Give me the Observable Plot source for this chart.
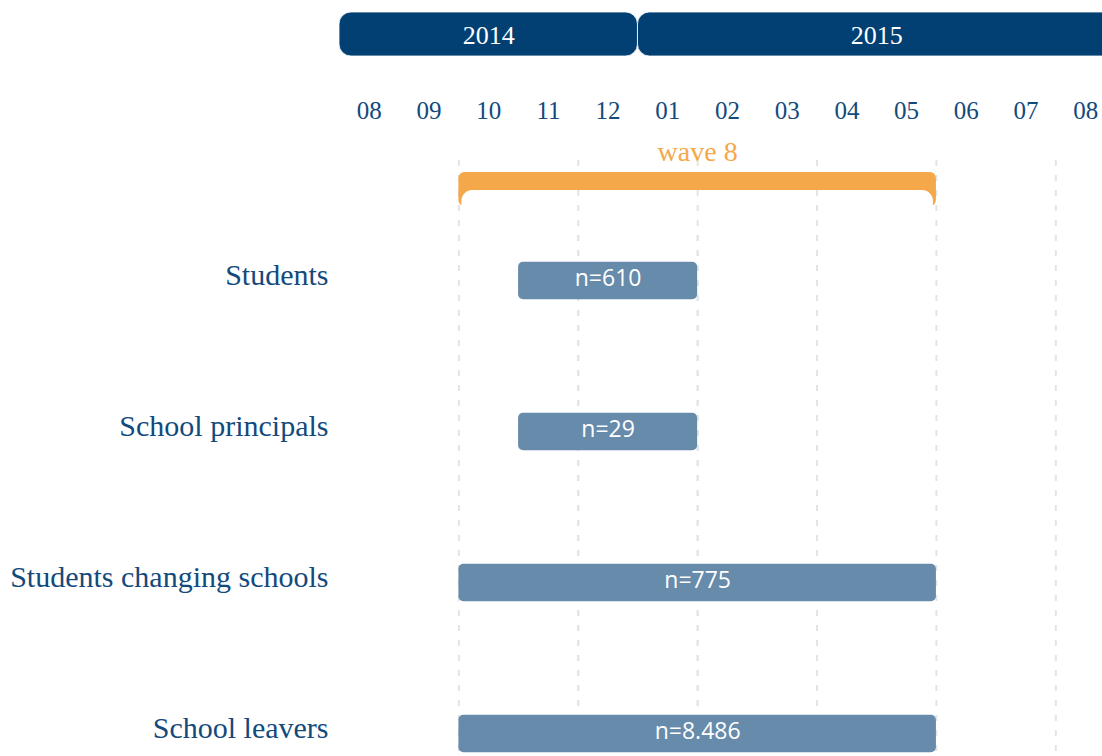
<!DOCTYPE html>
<html>
<head>
<meta charset="utf-8">
<script src="https://cdn.jsdelivr.net/npm/d3@7"></script>
<script src="https://cdn.jsdelivr.net/npm/@observablehq/plot@0.6"></script>
<style>
  html, body { margin: 0; padding: 0; background: white; }
  #chart { width: 1102px; height: 756px; overflow: hidden; }
  #chart svg { overflow: hidden; display: block; }
</style>
</head>
<body>
<div id="chart"></div>
<script>
// ---- data ----
const months = ["2014-08","2014-09","2014-10","2014-11","2014-12","2015-01","2015-02","2015-03","2015-04","2015-05","2015-06","2015-07","2015-08"];
const monthLabels = ["08","09","10","11","12","01","02","03","04","05","06","07","08"];
const years = ["2014", "2015"];
const yearStart = ["2014-08", "2015-01"];
const yearEnd = ["2014-12", "2015-08"];           // inclusive
const gridMonths = ["2014-10","2014-12","2015-02","2015-04","2015-06","2015-08"];
const waveLabel = "wave 8";
const waveStart = "2014-10";
const waveEnd = "2015-05";                        // inclusive
const categories = ["Students", "School principals", "Students changing schools", "School leavers"];
const startMonths = ["2014-11", "2014-11", "2014-10", "2014-10"];
const endMonths = ["2015-01", "2015-01", "2015-05", "2015-05"];   // inclusive
const sampleSizes = ["610", "29", "775", "8.486"];

// ---- helpers ----
const monthIndex = s => months.indexOf(s);
const rows = categories.map((c, i) => ({name: c, s: monthIndex(startMonths[i]), e: monthIndex(endMonths[i]) + 1, n: "n=" + sampleSizes[i]}));
const yearRows = years.map((y, i) => ({year: y, s: monthIndex(yearStart[i]), e: monthIndex(yearEnd[i]) + 1}));
const wave = [{label: waveLabel, s: monthIndex(waveStart), e: monthIndex(waveEnd) + 1}];
const grid = gridMonths.map(monthIndex);
const innerGrid = grid.filter(g => g > wave[0].s && g < wave[0].e);

const blue = "#134a7c";
const navy = "#023f72";
const orange = "#f5a84a";
const barFill = "#678bab";
const gridColor = "#e4e4e4";
const serif = "'Liberation Serif', 'DejaVu Serif', serif";
const sans = "'Open Sans', 'Noto Sans', sans-serif";

const chart = Plot.plot({
  width: 1102,
  height: 756,
  marginLeft: 339,
  marginRight: 0,
  marginTop: 0,
  marginBottom: 0,
  style: {fontFamily: serif, background: "white"},
  x: {type: "linear", domain: [0, months.length], range: [339, 1115], axis: null},
  y: {type: "band", domain: categories, range: [203.8, 809.2], padding: 0, axis: null},
  marks: [
    // dashed vertical grid
    Plot.ruleX(grid, {x: d => d, stroke: gridColor, strokeWidth: 2, strokeDasharray: "6,9", insetTop: 160}),
    // year bands
    Plot.barX(yearRows, {x1: "s", x2: "e", fill: navy, rx: 12, insetTop: 12, insetBottom: 700, stroke: "white", strokeWidth: 0.8}),
    Plot.text(yearRows, {x: d => (d.s + d.e) / 2, text: "year", frameAnchor: "top", dy: 25, fill: "white", fontSize: 26, fontFamily: serif}),
    // month labels
    Plot.text(monthLabels, {x: (d, i) => i + 0.5, text: d => d, frameAnchor: "top", dy: 101, fill: blue, fontSize: 25, fontFamily: serif}),
    // wave bracket
    Plot.barX(wave, {x1: "s", x2: "e", fill: orange, rx: 6, insetTop: 172, insetBottom: 550}),
    Plot.barX(wave, {x1: "s", x2: "e", fill: "white", rx: 11, insetLeft: 3, insetRight: 3, insetTop: 190, insetBottom: 530}),
    Plot.ruleX(innerGrid, {x: d => d, stroke: gridColor, strokeWidth: 2, strokeDasharray: "6,9", insetTop: 190}),
    Plot.text(wave, {x: d => (d.s + d.e) / 2, text: "label", frameAnchor: "top", dy: 141, fill: orange, fontSize: 28, fontFamily: serif}),
    // category labels
    Plot.text(rows, {y: "name", text: "name", frameAnchor: "left", textAnchor: "end", dx: -11, dy: -6, fill: blue, fontSize: 30, fontFamily: serif}),
    // bars
    Plot.barX(rows, {x1: "s", x2: "e", y: "name", fill: barFill, rx: 5, insetTop: 56.7, insetBottom: 56.7}),
    Plot.text(rows, {x: d => (d.s + d.e) / 2, y: "name", text: "n", dy: -2, fill: "white", fontSize: 23, fontFamily: sans})
  ]
});
document.getElementById("chart").appendChild(chart);
</script>
</body>
</html>
